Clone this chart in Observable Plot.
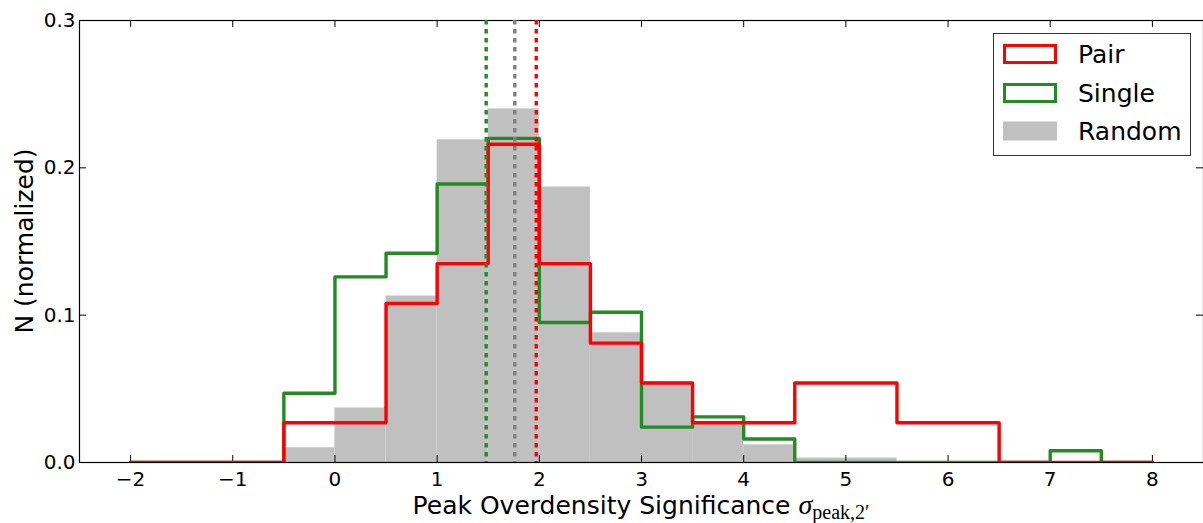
<!DOCTYPE html>
<html><head><meta charset="utf-8">
<script src="https://cdn.jsdelivr.net/npm/d3@7"></script>
<script src="https://cdn.jsdelivr.net/npm/@observablehq/plot@0.6"></script>
<style>body{margin:0;background:#fff} svg{display:block}</style>
</head><body><div id="chart"></div>
<script>
// ---- data ----
const binLeft = [-2, -1.5, -1, -0.5, 0, 0.5, 1, 1.5, 2, 2.5, 3, 3.5, 4, 4.5, 5, 5.5, 6, 6.5, 7, 7.5];
const binEnd = 8;
const pairValues   = [0, 0, 0, 0.027, 0.027, 0.108, 0.135, 0.216, 0.135, 0.081, 0.054, 0.027, 0.027, 0.054, 0.054, 0.027, 0.027, 0, 0, 0];
const singleValues = [0, 0, 0, 0.047, 0.126, 0.142, 0.189, 0.220, 0.095, 0.102, 0.024, 0.031, 0.016, 0, 0, 0, 0, 0, 0.008, 0];
const randomValues = [0, 0, 0, 0.010, 0.037, 0.113, 0.219, 0.240, 0.187, 0.088, 0.055, 0.027, 0.012, 0.003, 0.003, 0, 0, 0, 0, 0];
const meanSeries = ["Single", "Random", "Pair"];
const meanValues = [1.48, 1.76, 1.97];
const xTicks = [-2, -1, 0, 1, 2, 3, 4, 5, 6, 7, 8];
const yTicks = [0, 0.1, 0.2, 0.3];
const legendNames = ["Pair", "Single", "Random"];
const xTitle = "Peak Overdensity Significance ";
const xTitleSymbol = "σ";
const xTitleSub = "peak,2′";
const yTitle = "N (normalized)";

// ---- styles ----
const lineColor = {Pair: "#ff0000", Single: "#228b22"};
const meanColor = {Pair: "#ff0000", Single: "#228b22", Random: "#808080"};
const barColor = "#c0c0c0";
const W = 1203, H = 523, mL = 79, mR = 0, mT = 20, mB = 61, tk = 7;
const fw = W - mL - mR, fh = H - mT - mB;

function steps(values) {
  const pts = binLeft.map((x, i) => ({x, y: values[i]}));
  pts.push({x: binEnd, y: values[values.length - 1]});
  return pts;
}
const randomBars = binLeft.map((x, i) => ({x1: x, x2: i < binLeft.length - 1 ? binLeft[i + 1] : binEnd, y: randomValues[i]}));
const means = meanSeries.map((s, i) => ({s, x: meanValues[i]}));
const fmtX = d => d < 0 ? "\u2212" + Math.abs(d) : String(d);

const chart = Plot.plot({
  width: W, height: H,
  marginLeft: mL, marginRight: mR, marginTop: mT, marginBottom: mB,
  x: {domain: [-2.5, 8.5]},
  y: {domain: [0, 0.3]},
  style: {fontFamily: "'DejaVu Sans', sans-serif", fontSize: "20px", background: "#fff", color: "#000"},
  marks: [
    Plot.rectY(randomBars, {x1: "x1", x2: "x2", y: "y", fill: barColor, inset: 0}),
    Plot.frame({stroke: "#000", strokeWidth: 1.2}),
    Plot.tickX(xTicks, {x: d => d, insetTop: fh - tk, stroke: "#000"}),
    Plot.tickX(xTicks, {x: d => d, insetBottom: fh - tk, stroke: "#000"}),
    Plot.tickY(yTicks, {y: d => d, insetRight: fw - tk, stroke: "#000"}),
    Plot.tickY(yTicks, {y: d => d, insetLeft: fw - tk, stroke: "#000"}),
    Plot.line(steps(singleValues), {x: "x", y: "y", curve: "step-after", stroke: lineColor.Single, strokeWidth: 3.4, clip: true}),
    Plot.line(steps(pairValues), {x: "x", y: "y", curve: "step-after", stroke: lineColor.Pair, strokeWidth: 3.4, clip: true}),
    Plot.ruleX(means, {x: "x", stroke: d => meanColor[d.s], strokeWidth: 3.4, strokeDasharray: "4.5,4.5"}),
    Plot.axisX({ticks: xTicks, tickSize: 0, tickPadding: 9, tickFormat: fmtX, label: null, fontSize: 20}),
    Plot.axisY({ticks: yTicks, tickSize: 0, tickPadding: 4, tickFormat: d => d.toFixed(1), label: null, fontSize: 20})
  ]
});
document.getElementById("chart").appendChild(chart);

const svg = d3.select(chart);
// axis titles
const xt = svg.append("text").attr("x", mL + fw / 2).attr("y", 514).attr("text-anchor", "middle")
  .attr("fill", "#000").style("font-family", "'DejaVu Sans'").style("font-size", "25px");
xt.append("tspan").text(xTitle);
xt.append("tspan").style("font-family", "'Liberation Serif'").style("font-style", "italic").style("font-size", "28px").text(xTitleSymbol);
xt.append("tspan").attr("dy", 5).style("font-family", "'Liberation Serif'").style("font-size", "20px").text(xTitleSub);

svg.append("text").attr("transform", `translate(33,${mT + fh / 2}) rotate(-90)`).attr("text-anchor", "middle")
  .attr("fill", "#000").style("font-family", "'DejaVu Sans'").style("font-size", "25px").text(yTitle);

// legend
const lg = svg.append("g");
lg.append("rect").attr("x", 993.5).attr("y", 33.5).attr("width", 197).attr("height", 122)
  .attr("fill", "#fff").attr("stroke", "#333").attr("stroke-width", 1);
const rowsY = [54, 93, 131];
legendNames.forEach((name, i) => {
  const cy = rowsY[i];
  if (name === "Random") {
    lg.append("rect").attr("x", 1003).attr("y", cy - 9.5).attr("width", 54).attr("height", 19).attr("fill", barColor);
  } else {
    lg.append("rect").attr("x", 1004.5).attr("y", cy - 8.5).attr("width", 51).attr("height", 17)
      .attr("fill", "none").attr("stroke", lineColor[name]).attr("stroke-width", 3);
  }
  lg.append("text").attr("x", 1078).attr("y", cy + 9).attr("text-anchor", "start").attr("fill", "#000")
    .style("font-family", "'DejaVu Sans'").style("font-size", "25px").text(name);
});
</script>
</body></html>
